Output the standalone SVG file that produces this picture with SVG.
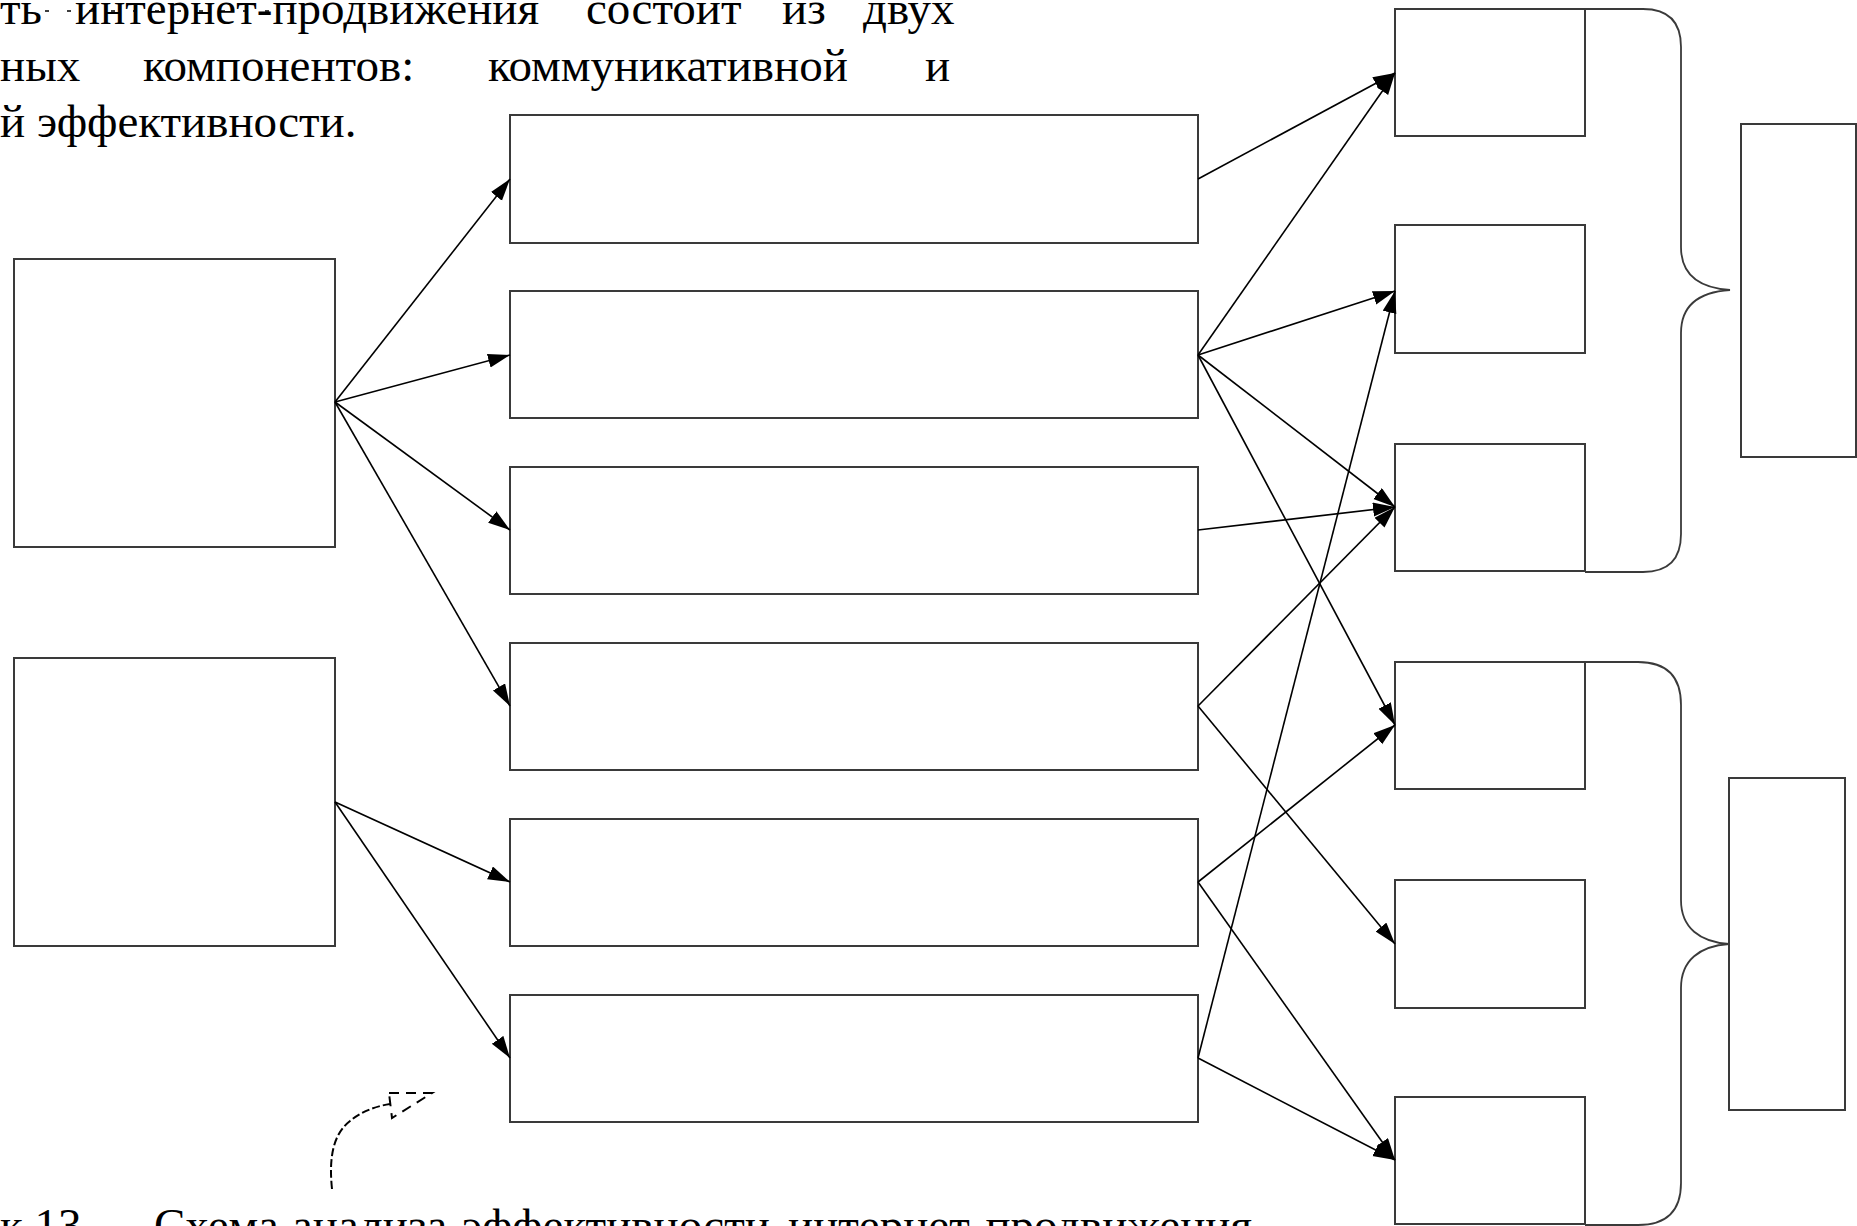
<svg xmlns="http://www.w3.org/2000/svg" width="1857" height="1226" viewBox="0 0 1857 1226">
<style>
.box{fill:#fff;stroke:#3a3a3a;stroke-width:2}
.con{stroke:#000;stroke-width:1.6;fill:none;marker-end:url(#ah)}
.brace{fill:none;stroke:#3a3a3a;stroke-width:1.8}
.txt{font-family:"Liberation Serif","Times New Roman",serif;font-size:47px;fill:#000}
.dash{fill:none;stroke:#000;stroke-width:2}
</style>
<defs>
<marker id="ah" markerUnits="userSpaceOnUse" markerWidth="24" markerHeight="16" refX="22" refY="7" orient="auto">
<path d="M0,0 L22,7 L0,14 z" fill="#000"/>
</marker>
</defs>
<rect width="1857" height="1226" fill="#fff"/>
<g id="text-top" class="txt">
<text y="24"><tspan x="0">ть</tspan><tspan x="75">интернет-продвижения</tspan><tspan x="586">состоит</tspan><tspan x="782">из</tspan><tspan x="863">двух</tspan></text>
<text y="81"><tspan x="0">ных</tspan><tspan x="143">компонентов:</tspan><tspan x="488">коммуникативной</tspan><tspan x="925">и</tspan></text>
<text y="137"><tspan x="0">й эффективности.</tspan></text>
<line x1="45" y1="11" x2="300" y2="11" stroke="#000" stroke-width="1.5" stroke-dasharray="4 18"/>
</g>
<g id="caption" class="txt">
<text y="1241"><tspan x="0">к 13</tspan><tspan x="154">Схема</tspan><tspan x="292">анализа</tspan><tspan x="462">эффективности</tspan><tspan x="788">интернет-продвижения</tspan></text>
</g>
<g id="left-1"><rect class="box" x="14" y="259" width="321" height="288"/></g>
<g id="left-2"><rect class="box" x="14" y="658" width="321" height="288"/></g>
<g id="mid-1"><rect class="box" x="510" y="115" width="688" height="128"/></g>
<g id="mid-2"><rect class="box" x="510" y="291" width="688" height="127"/></g>
<g id="mid-3"><rect class="box" x="510" y="467" width="688" height="127"/></g>
<g id="mid-4"><rect class="box" x="510" y="643" width="688" height="127"/></g>
<g id="mid-5"><rect class="box" x="510" y="819" width="688" height="127"/></g>
<g id="mid-6"><rect class="box" x="510" y="995" width="688" height="127"/></g>
<g id="right-1"><rect class="box" x="1395" y="9" width="190" height="127"/></g>
<g id="right-2"><rect class="box" x="1395" y="225" width="190" height="128"/></g>
<g id="right-3"><rect class="box" x="1395" y="444" width="190" height="127"/></g>
<g id="right-4"><rect class="box" x="1395" y="662" width="190" height="127"/></g>
<g id="right-5"><rect class="box" x="1395" y="880" width="190" height="128"/></g>
<g id="right-6"><rect class="box" x="1395" y="1097" width="190" height="127"/></g>
<g id="result-1"><rect class="box" x="1741" y="124" width="115" height="333"/></g>
<g id="result-2"><rect class="box" x="1729" y="778" width="116" height="332"/></g>
<g id="braces">
<path class="brace" d="M1585,9 H1643 Q1681,9 1681,47 V247 C1681,275 1700,288 1730,290 C1700,292 1681,305 1681,333 V534 Q1681,572 1643,572 H1585"/>
<path class="brace" d="M1585,662 H1638 Q1681,662 1681,705 V900 C1681,928 1700,942 1729,944 C1700,946 1681,960 1681,988 V1183 Q1681,1225 1638,1225 H1585"/>
</g>
<g id="connectors">
<line class="con" x1="335" y1="402" x2="510" y2="179"/>
<line class="con" x1="335" y1="402" x2="510" y2="355"/>
<line class="con" x1="335" y1="402" x2="510" y2="530"/>
<line class="con" x1="335" y1="402" x2="510" y2="706"/>
<line class="con" x1="335" y1="802" x2="510" y2="882"/>
<line class="con" x1="335" y1="802" x2="510" y2="1058"/>
<line class="con" x1="1198" y1="179" x2="1395" y2="73"/>
<line class="con" x1="1198" y1="355" x2="1395" y2="73"/>
<line class="con" x1="1198" y1="355" x2="1395" y2="291"/>
<line class="con" x1="1198" y1="355" x2="1395" y2="507"/>
<line class="con" x1="1198" y1="355" x2="1395" y2="725"/>
<line class="con" x1="1198" y1="530" x2="1395" y2="507"/>
<line class="con" x1="1198" y1="706" x2="1395" y2="507"/>
<line class="con" x1="1198" y1="706" x2="1395" y2="944"/>
<line class="con" x1="1198" y1="882" x2="1395" y2="725"/>
<line class="con" x1="1198" y1="882" x2="1395" y2="1160"/>
<line class="con" x1="1198" y1="1058" x2="1395" y2="291"/>
<line class="con" x1="1198" y1="1058" x2="1395" y2="1160"/>
<path class="dash" stroke-dasharray="8 3" d="M332,1189 C329,1160 332,1135 350,1121 C362,1111 377,1106 390,1104"/>
<path class="dash" stroke-dasharray="10 7" d="M389,1093 L432,1093 L392,1118 Z"/>
</g>
</svg>
